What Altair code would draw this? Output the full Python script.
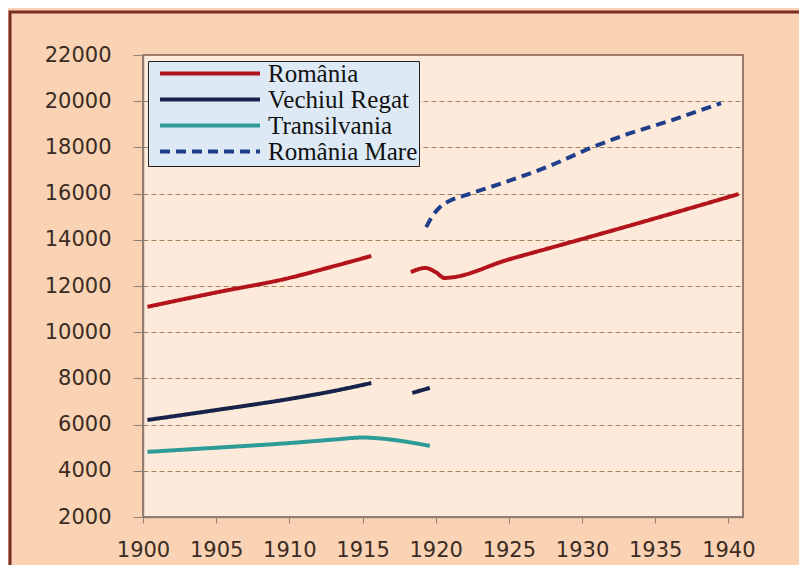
import altair as alt
import pandas as pd

series_names = ["România", "Vechiul Regat", "Transilvania", "România Mare"]
series_colors = ["#B3141C", "#17234A", "#2E9C96", "#203F8A"]
series_dash = [[1, 0], [1, 0], [1, 0], [10, 6]]

# România, 1900-1915
ro_a_years = [1900.3, 1905.0, 1910.0, 1913.0, 1915.6]
ro_a_vals = [11100, 11720, 12350, 12850, 13300]
# România, 1918-1940
ro_b_years = [1918.3, 1919.3, 1920.0, 1920.6, 1925.0, 1930.5, 1935.0, 1940.7]
ro_b_vals = [12600, 12780, 12600, 12350, 13150, 14120, 14930, 15980]
# Vechiul Regat
vr_a_years = [1900.3, 1905.0, 1910.0, 1913.0, 1915.6]
vr_a_vals = [6200, 6630, 7110, 7450, 7800]
vr_b_years = [1918.4, 1919.6]
vr_b_vals = [7370, 7590]
# Transilvania
tr_years = [1900.3, 1905.0, 1910.0, 1913.0, 1915.0, 1916.0, 1919.6]
tr_vals = [4820, 5000, 5200, 5350, 5440, 5410, 5080]
# România Mare
rm_years = [1919.35, 1919.8, 1920.3, 1921.0, 1922.0, 1925.0, 1928.0,
            1930.3, 1933.0, 1936.0, 1939.5]
rm_vals = [14550, 15050, 15420, 15700, 15920, 16550, 17250,
           17900, 18550, 19150, 19920]

x_ticks = [1900, 1905, 1910, 1915, 1920, 1925, 1930, 1935, 1940]
y_ticks = [2000, 4000, 6000, 8000, 10000, 12000, 14000, 16000, 18000, 20000, 22000]

segments = [
    ("România", "ro_a", ro_a_years, ro_a_vals),
    ("România", "ro_b", ro_b_years, ro_b_vals),
    ("Vechiul Regat", "vr_a", vr_a_years, vr_a_vals),
    ("Vechiul Regat", "vr_b", vr_b_years, vr_b_vals),
    ("Transilvania", "tr", tr_years, tr_vals),
    ("România Mare", "rm", rm_years, rm_vals),
]
rows = []
for name, seg, ys, vs in segments:
    for i, (yr, v) in enumerate(zip(ys, vs)):
        rows.append({"series": name, "seg": seg, "year": yr, "value": v, "order": i})
df = pd.DataFrame(rows)

lines = alt.Chart(df).mark_line(strokeWidth=4, interpolate="monotone", strokeCap="butt").encode(
    x=alt.X("year:Q", scale=alt.Scale(domain=[1900, 1941], nice=False, zero=False),
            axis=alt.Axis(values=x_ticks, format="d", title=None, grid=False,
                          tickSize=6, labelPadding=16, labelOverlap=False,
                          labelFlush=False)),
    y=alt.Y("value:Q", scale=alt.Scale(domain=[2000, 22000], nice=False, zero=False),
            axis=alt.Axis(values=y_ticks, format="d", title=None, grid=True,
                          tickSize=10, labelPadding=22, gridDash=[5, 3],
                          gridColor="#A5825E", gridWidth=1, labelOverlap=False)),
    color=alt.Color("series:N", scale=alt.Scale(domain=series_names, range=series_colors),
                    legend=alt.Legend(title=None)),
    strokeDash=alt.StrokeDash("series:N", scale=alt.Scale(domain=series_names, range=series_dash),
                              legend=alt.Legend(title=None)),
    detail="seg:N",
    order="order:Q",
)

frame = alt.Chart(alt.Data(values=[{}])).mark_rect(
    fillOpacity=0, stroke="#7B2C20", strokeWidth=3
).encode(
    x=alt.value(-133), x2=alt.value(700), y=alt.value(-43), y2=alt.value(540)
)

chart = alt.layer(frame, lines).properties(
    width=600, height=462,
    autosize=alt.AutoSizeParams(type="none"),
    padding={"left": 135, "top": 47, "right": 56, "bottom": 48},
    background="#FAD3B5",
).configure_view(
    fill="#FDEADB", stroke="#7A5A4A", strokeWidth=1.5
).configure_axis(
    labelFont="DejaVu Sans", labelFontSize=21, labelColor="#3B2B22",
    domainColor="#8E8078", tickColor="#8E8078", domainWidth=1.5
).configure_legend(
    orient="none", legendX=5, legendY=6,
    fillColor="#DDEAF6", strokeColor="#222222",
    padding=1, rowPadding=0, clipHeight=23,
    symbolType="stroke", symbolSize=10000, symbolStrokeWidth=4, symbolOffset=9,
    labelFont="Liberation Serif", labelFontSize=25, labelColor="#111111",
    labelOffset=6, labelLimit=400
)

chart.save("out.html", embed_options={"renderer": "svg", "actions": False})
